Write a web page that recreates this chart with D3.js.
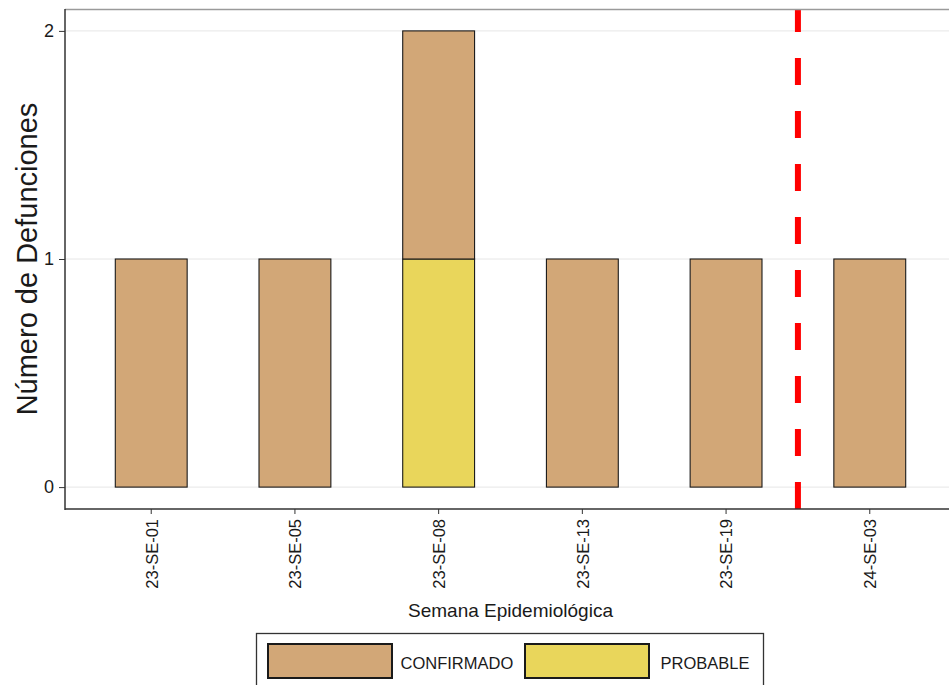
<!DOCTYPE html>
<html><head><meta charset="utf-8">
<script src="https://cdn.jsdelivr.net/npm/d3@7"></script>
<style>body{margin:0;background:#fff;} svg{display:block;font-family:"Liberation Sans",Arial,sans-serif;}</style>
</head><body><svg id="c" width="949" height="685"></svg>
<script>
const categories = ["23-SE-01","23-SE-05","23-SE-08","23-SE-13","23-SE-19","24-SE-03"];
const confirmado = [1,1,1,1,1,1];
const probable   = [0,0,1,0,0,0];
const seriesNames = ["PROBABLE","CONFIRMADO"];
const seriesColors = {CONFIRMADO:"#D2A777", PROBABLE:"#E9D65B"};
const yTicks = [0,1,2];
const cutAfter = "23-SE-19";

(function(){
const svg = d3.select("#c");
const W = 949, H = 685;
const pLeft = 65, pTop = 9, pBottom = 509;

const rows = categories.map((c,i)=>({cat:c, CONFIRMADO:confirmado[i], PROBABLE:probable[i]}));
const stacked = d3.stack().keys(seriesNames)(rows);

const x = d3.scaleBand().domain(categories).range([pLeft, 956]).paddingInner(0.5).paddingOuter(0.35);
const y = d3.scaleLinear().domain([-0.096, 2.096]).range([pBottom, pTop]);

// gridlines
svg.append("g").selectAll("line").data(yTicks).join("line")
  .attr("x1", pLeft).attr("x2", W).attr("y1", d=>y(d)).attr("y2", d=>y(d))
  .attr("stroke","#e6e6e6").attr("stroke-width",1);

// bars
svg.append("g").selectAll("g").data(stacked).join("g")
  .attr("fill", d=>seriesColors[d.key])
  .selectAll("rect").data(d=>d.filter(p=>p[1]-p[0]>0)).join("rect")
  .attr("x", d=>x(d.data.cat)).attr("width", x.bandwidth())
  .attr("y", d=>y(d[1])).attr("height", d=>y(d[0])-y(d[1]))
  .attr("stroke","#1a1a1a").attr("stroke-width",1.1);

// red dashed vline
const i5 = categories.indexOf(cutAfter);
const vx = (x(categories[i5]) + x(categories[i5+1]))/2 + x.bandwidth()/2;
svg.append("line").attr("x1",vx).attr("x2",vx).attr("y1",pBottom).attr("y2",pTop)
  .attr("stroke","#FF0000").attr("stroke-width",6).attr("stroke-dasharray","27,26");

// panel top border
svg.append("line").attr("x1",pLeft).attr("x2",W).attr("y1",pTop+0.5).attr("y2",pTop+0.5)
  .attr("stroke","#9a9a9a").attr("stroke-width",1.5);

// y axis
const yAxis = svg.append("g").attr("transform",`translate(${pLeft},0)`)
  .call(d3.axisLeft(y).tickValues(yTicks).tickSize(6).tickPadding(5).tickFormat(d3.format("d")));
yAxis.select(".domain").remove();
yAxis.selectAll(".tick line").attr("stroke","#333");
yAxis.selectAll(".tick text").attr("fill","#1a1a1a")
  .style("font-family","Liberation Sans, Arial").style("font-size","18px");
svg.append("line").attr("x1",pLeft).attr("x2",pLeft).attr("y1",pTop).attr("y2",pBottom+1)
  .attr("stroke","#333").attr("stroke-width",1.5);

// x axis
const xAxis = svg.append("g").attr("transform",`translate(0,${pBottom})`)
  .call(d3.axisBottom(x).tickSize(5).tickSizeOuter(0));
xAxis.select(".domain").remove();
xAxis.selectAll(".tick line").attr("stroke","#333");
xAxis.selectAll(".tick text").attr("fill","#1a1a1a")
  .style("font-family","Liberation Sans, Arial").style("font-size","16.5px")
  .attr("text-anchor","end").attr("transform","rotate(-90)")
  .attr("x",-10).attr("y",0).attr("dy","0.38em");
svg.append("line").attr("x1",pLeft).attr("x2",W).attr("y1",pBottom).attr("y2",pBottom)
  .attr("stroke","#333").attr("stroke-width",1.5);

// axis titles
svg.append("text").attr("x",510.5).attr("y",617).attr("text-anchor","middle")
  .style("font-size","19px").attr("fill","#1a1a1a").text("Semana Epidemiológica");
svg.append("text").attr("transform",`translate(37,${(pTop+pBottom)/2}) rotate(-90)`).attr("text-anchor","middle")
  .style("font-size","29px").attr("fill","#1a1a1a").text("Número de Defunciones");

// legend
const lg = svg.append("g");
lg.append("rect").attr("x",256.5).attr("y",633.5).attr("width",507).attr("height",70)
  .attr("fill","#fff").attr("stroke","#333").attr("stroke-width",1.3);
const legendItems = [
  {key:"CONFIRMADO", kx:268, tx:400.5},
  {key:"PROBABLE", kx:525, tx:660.5}
];
legendItems.forEach(it=>{
  lg.append("rect").attr("x",it.kx).attr("y",644).attr("width",124).attr("height",34)
    .attr("fill",seriesColors[it.key]).attr("stroke","#1a1a1a").attr("stroke-width",2);
  lg.append("text").attr("x",it.tx).attr("y",669).style("font-size","16.5px").attr("fill","#1a1a1a").text(it.key);
});
})();
</script></body></html>
